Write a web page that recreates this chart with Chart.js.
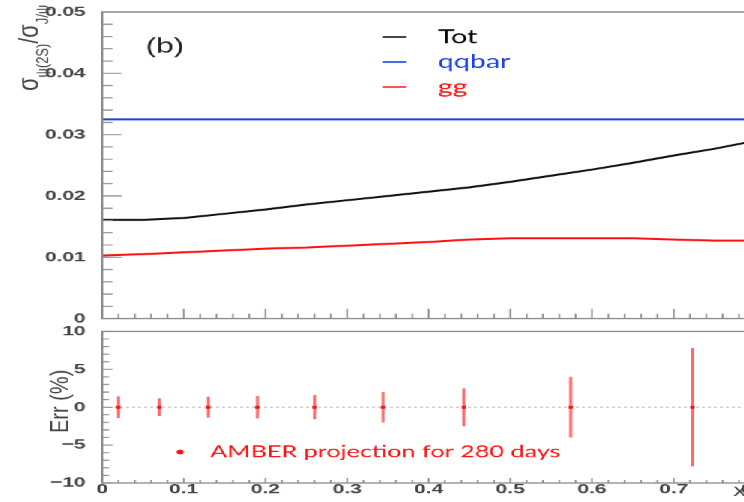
<!DOCTYPE html>
<html>
<head>
<meta charset="utf-8">
<script src="https://cdn.jsdelivr.net/npm/chart.js@4.4.0/dist/chart.umd.min.js"></script>
<style>
html, body { margin: 0; padding: 0; background: #fff; overflow: hidden; }
#stage { position: absolute; left: 0; top: 0; width: 744px; height: 502px; overflow: hidden; background: #fff; }
#wide { position: absolute; left: 0; top: 0; width: 510px; height: 502px; transform: scaleX(1.5); transform-origin: 0 0; }
#top { position: absolute; left: 0; top: 0; }
#bot { position: absolute; left: 0; top: 320px; }
</style>
</head>
<body>
<div id="stage"><div id="wide">
<canvas id="top" width="510" height="330"></canvas>
<canvas id="bot" width="510" height="182"></canvas>
</div></div>
<script>
// x_F grid of the ratio curves
const xF = [0, 0.05, 0.1, 0.15, 0.2, 0.25, 0.3, 0.35, 0.4, 0.45, 0.5, 0.55, 0.6, 0.65, 0.7, 0.75, 0.8];
const tot = [0.0161, 0.0161, 0.0164, 0.0171, 0.0178, 0.0186, 0.0193, 0.0200, 0.0207, 0.0214, 0.0223, 0.0233, 0.0243, 0.0254, 0.0266, 0.0277, 0.0290];
const gg = [0.0103, 0.0105, 0.0108, 0.0111, 0.0114, 0.0116, 0.0119, 0.0122, 0.0125, 0.0129, 0.0131, 0.0131, 0.0131, 0.0131, 0.0129, 0.0127, 0.0127];
const qqbarX = [0, 0.8];
const qqbar = [0.0325, 0.0325];

// AMBER projection points
const errX = [0.020, 0.070, 0.130, 0.190, 0.260, 0.344, 0.443, 0.574, 0.723];
const errY = [0, 0, 0, 0, 0, 0, 0, 0, 0];
const errSize = [1.43, 1.17, 1.39, 1.47, 1.6, 2.0, 2.5, 4.0, 7.8];

const xTickVals = [0, 0.1, 0.2, 0.3, 0.4, 0.5, 0.6, 0.7, 0.8];
const xTickLabels = ["0", "0.1", "0.2", "0.3", "0.4", "0.5", "0.6", "0.7", "0.8"];
const ratioTickVals = [0, 0.01, 0.02, 0.03, 0.04, 0.05];
const ratioTickLabels = ["0", "0.01", "0.02", "0.03", "0.04", "0.05"];
const errTickVals = [-10, -5, 0, 5, 10];
const errTickLabels = ["\u221210", "\u22125", "0", "5", "10"];

const STRETCH = 1.5;
const ROT_STRETCH = 1.3;
const AXIS_FONT = { family: "'Liberation Sans', Arial, sans-serif", size: 14, weight: "bold" };
const AXIS_COL = "#444";
const FRAME_COL = "#8c8c8c";

const rootFrame = {
    id: "rootFrame",
    afterDatasetsDraw(chart, args, o) {
        const { ctx, chartArea: a, scales: { x, y } } = chart;
        ctx.save();
        ctx.strokeStyle = FRAME_COL;
        ctx.lineWidth = 1.4;
        ctx.strokeRect(a.left, a.top, a.right - a.left, a.bottom - a.top);
        ctx.lineWidth = 1.1;
        ctx.beginPath();
        let n = Math.round((y.max - y.min) / o.yStep);
        for (let i = 0; i <= n; i++) {
            const py = y.getPixelForValue(y.min + i * o.yStep);
            const len = i % o.ySub === 0 ? o.yLong : o.yShort;
            ctx.moveTo(a.left, py);
            ctx.lineTo(a.left + len, py);
        }
        n = Math.round((x.max - x.min) / o.xStep);
        for (let i = 0; i <= n; i++) {
            const px = x.getPixelForValue(x.min + i * o.xStep);
            const len = i % o.xSub === 0 ? o.xLong : o.xShort;
            ctx.moveTo(px, a.bottom);
            ctx.lineTo(px, a.bottom - len);
        }
        ctx.stroke();
        ctx.restore();
    }
};

// text made of pieces (for subscripts); rotated titles get less horizontal stretch
function pieces(ctx, parts, x0, y0, rotate) {
    ctx.save();
    ctx.translate(x0, y0);
    if (rotate) {
        ctx.scale(ROT_STRETCH / STRETCH, 1);
        ctx.rotate(-Math.PI / 2);
    }
    ctx.textBaseline = "alphabetic";
    ctx.textAlign = "left";
    let cx = 0;
    parts.forEach(p => {
        ctx.font = p.size + "px 'Liberation Sans', Arial, sans-serif";
        ctx.fillText(p.t, cx, p.dy || 0);
        cx += ctx.measureText(p.t).width;
    });
    ctx.restore();
}

const topTexts = {
    id: "topTexts",
    afterDraw(chart) {
        const ctx = chart.ctx;
        ctx.save();
        ctx.fillStyle = "#222";
        ctx.font = "21px 'Liberation Sans', Arial, sans-serif";
        ctx.textBaseline = "middle";
        ctx.fillText("(b)", 97, 47);

        ctx.fillStyle = AXIS_COL;
        pieces(ctx, [
            { t: "\u03c3", size: 22 },
            { t: "\u03c8(2S)", size: 13, dy: 8 },
            { t: "/", size: 21 },
            { t: "\u03c3", size: 22 },
            { t: "J/\u03c8", size: 13, dy: 8 }
        ], 38 / STRETCH, 91, true);

        const leg = [["Tot", "#000"], ["qqbar", "#1c3fe0"], ["gg", "#ff1010"]];
        ctx.font = "19px Lato, 'Open Sans', sans-serif";
        ctx.textBaseline = "middle";
        leg.forEach((l, i) => {
            const ly = 37 + i * 25;
            ctx.strokeStyle = l[1];
            ctx.lineWidth = 1.5;
            ctx.beginPath();
            ctx.moveTo(255, ly);
            ctx.lineTo(271, ly);
            ctx.stroke();
            ctx.fillStyle = l[1];
            ctx.fillText(l[0], 292, ly);
        });
        ctx.restore();
    }
};

const errBars = {
    id: "errBars",
    beforeDatasetsDraw(chart) {
        const { ctx, chartArea: a, scales: { x, y } } = chart;
        ctx.save();
        ctx.strokeStyle = "#999";
        ctx.lineWidth = 0.8;
        ctx.setLineDash([2, 2]);
        ctx.beginPath();
        ctx.moveTo(a.left, y.getPixelForValue(0));
        ctx.lineTo(a.right, y.getPixelForValue(0));
        ctx.stroke();
        ctx.setLineDash([]);
        ctx.strokeStyle = "rgba(255,0,0,0.6)";
        ctx.lineWidth = 2;
        ctx.beginPath();
        errX.forEach((v, i) => {
            const px = x.getPixelForValue(v);
            ctx.moveTo(px, y.getPixelForValue(errY[i] - errSize[i]));
            ctx.lineTo(px, y.getPixelForValue(errY[i] + errSize[i]));
        });
        ctx.stroke();
        ctx.restore();
    },
    afterDraw(chart) {
        const ctx = chart.ctx;
        ctx.save();
        ctx.fillStyle = "#ff1010";
        ctx.beginPath();
        ctx.arc(120, 132, 2.4, 0, Math.PI * 2);
        ctx.fill();
        ctx.font = "16.8px Lato, 'Open Sans', sans-serif";
        ctx.textBaseline = "middle";
        ctx.fillText("AMBER projection for 280 days", 140, 132);
        ctx.fillStyle = AXIS_COL;
        pieces(ctx, [{ t: "x", size: 17 }, { t: "F", size: 11, dy: 4 }], 489, 176, false);
        pieces(ctx, [{ t: "Err (%)", size: 20 }], 68 / STRETCH, 113, true);
        ctx.restore();
    }
};

function pts(xs, ys) {
    return xs.map((v, i) => ({ x: v, y: ys[i] }));
}

function fixedTicks(vals) {
    return s => { s.ticks = vals.map(v => ({ value: v })); };
}

new Chart(document.getElementById("top"), {
    type: "line",
    data: {
        datasets: [
            { label: "qqbar", data: pts(qqbarX, qqbar), borderColor: "#1c3fe0", borderWidth: 2 },
            { label: "gg", data: pts(xF, gg), borderColor: "#ff1010", borderWidth: 2 },
            { label: "Tot", data: pts(xF, tot), borderColor: "#111", borderWidth: 2 }
        ]
    },
    options: {
        responsive: false,
        animation: false,
        devicePixelRatio: 1.5,
        elements: { point: { radius: 0 }, line: { tension: 0 } },
        layout: { padding: { left: 0, top: 12, right: 6.3, bottom: 11 } },
        scales: {
            x: { type: "linear", min: 0, max: 0.8, display: false },
            y: {
                min: 0, max: 0.05,
                afterBuildTicks: fixedTicks(ratioTickVals),
                afterFit: s => { s.width = 68; },
                grid: { display: false },
                border: { display: false },
                ticks: {
                    font: AXIS_FONT, color: AXIS_COL, padding: 3,
                    callback: (v, i) => ratioTickLabels[i]
                }
            }
        },
        plugins: {
            legend: { display: false },
            tooltip: { enabled: false },
            rootFrame: { yStep: 0.002, ySub: 5, yLong: 13, yShort: 7, xStep: 0.02, xSub: 5, xLong: 10, xShort: 5 }
        }
    },
    plugins: [rootFrame, topTexts]
});

new Chart(document.getElementById("bot"), {
    type: "scatter",
    data: {
        datasets: [{
            label: "AMBER projection for 280 days",
            data: pts(errX, errY),
            backgroundColor: "#ff1010",
            borderColor: "#ff1010",
            pointStyle: "rect",
            pointRadius: 2,
            borderWidth: 0
        }]
    },
    options: {
        responsive: false,
        animation: false,
        devicePixelRatio: 1.5,
        layout: { padding: { left: 0, top: 9, right: 6.3, bottom: 0 } },
        scales: {
            x: {
                type: "linear", min: 0, max: 0.8,
                afterBuildTicks: fixedTicks(xTickVals),
                afterFit: s => { s.height = 19; },
                grid: { display: false },
                border: { display: false },
                ticks: {
                    font: AXIS_FONT, color: AXIS_COL, padding: -10, autoSkip: false, maxRotation: 0,
                    callback: (v, i) => xTickLabels[i]
                }
            },
            y: {
                min: -10, max: 10,
                afterBuildTicks: fixedTicks(errTickVals),
                afterFit: s => { s.width = 68; },
                grid: { display: false },
                border: { display: false },
                ticks: {
                    font: AXIS_FONT, color: AXIS_COL, padding: 3,
                    callback: (v, i) => errTickLabels[i]
                }
            }
        },
        plugins: {
            legend: { display: false },
            tooltip: { enabled: false },
            rootFrame: { yStep: 1, ySub: 5, yLong: 7, yShort: 4.5, xStep: 0.02, xSub: 5, xLong: 5, xShort: 3 }
        }
    },
    plugins: [rootFrame, errBars]
});
</script>
</body>
</html>
